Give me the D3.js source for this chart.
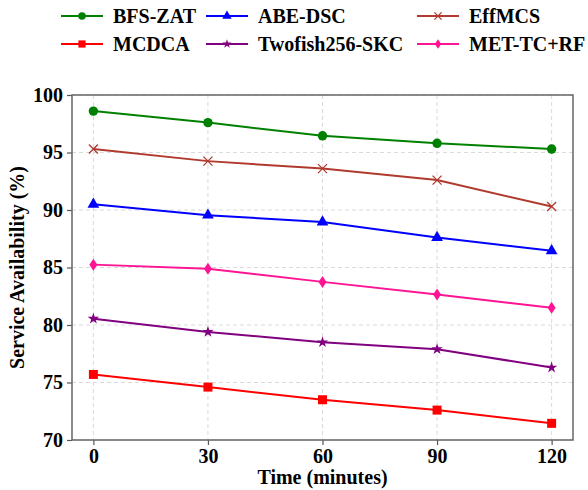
<!DOCTYPE html>
<html><head><meta charset="utf-8">
<script src="https://cdn.jsdelivr.net/npm/d3@7"></script>
<style>body{margin:0;background:#fff}svg{display:block}text{font-family:"Liberation Serif","Times New Roman",serif;font-weight:bold;fill:#000}</style>
</head><body><svg id="c" width="588" height="490"></svg>
<script>
const times = [0, 30, 60, 90, 120];
const xTicks = [0, 30, 60, 90, 120];
const yTicks = [70, 75, 80, 85, 90, 95, 100];
const seriesNames = ["BFS-ZAT", "ABE-DSC", "EffMCS", "MCDCA", "Twofish256-SKC", "MET-TC+RF"];
const bfsZat = [98.6, 97.6, 96.45, 95.8, 95.3];
const abeDsc = [90.5, 89.55, 88.95, 87.6, 86.45];
const effMcs = [95.3, 94.25, 93.6, 92.6, 90.3];
const mcdca = [75.7, 74.6, 73.5, 72.6, 71.45];
const twofish = [80.55, 79.4, 78.5, 77.9, 76.3];
const metTcRf = [85.25, 84.9, 83.75, 82.65, 81.5];
const colors = ["#008000", "#0000ff", "#b03a2e", "#ff0000", "#800080", "#ff1493"];
const markers = ["circle", "triangle", "x", "square", "star", "diamond"];
const values = [bfsZat, abeDsc, effMcs, mcdca, twofish, metTcRf];

const svg = d3.select("#c");
const L = 72, R = 573, T = 95, B = 440;
const FS = 20;
const x = d3.scaleLinear().domain([-5.6, 125.6]).range([L, R]);
const y = d3.scaleLinear().domain([70, 100]).range([B, T]);

// grid
const g = svg.append("g");
g.selectAll(".gx").data(xTicks).join("line").attr("x1", d => x(d)).attr("x2", d => x(d)).attr("y1", T).attr("y2", B)
  .attr("stroke", "#d0d0d0").attr("stroke-width", 0.8).attr("stroke-dasharray", "4,3");
g.selectAll(".gy").data(yTicks).join("line").attr("y1", d => y(d)).attr("y2", d => y(d)).attr("x1", L).attr("x2", R)
  .attr("stroke", "#d0d0d0").attr("stroke-width", 0.8).attr("stroke-dasharray", "4,3");

// axes
const xa = svg.append("g").attr("transform", `translate(0,${B})`).call(d3.axisBottom(x).tickValues(xTicks).tickSize(5).tickPadding(4));
const ya = svg.append("g").attr("transform", `translate(${L},0)`).call(d3.axisLeft(y).tickValues(yTicks).tickSize(5).tickPadding(4));
[xa, ya].forEach(a => {
  a.select(".domain").remove();
  a.selectAll("line").attr("stroke", "#555").attr("stroke-width", 1.2);
  a.selectAll("text").attr("font-size", FS).attr("font-family", "Liberation Serif, serif").attr("font-weight", "bold").attr("fill", "#000");
});
svg.append("rect").attr("x", L).attr("y", T).attr("width", R - L).attr("height", B - T)
  .attr("fill", "none").attr("stroke", "#666").attr("stroke-width", 1.5);

// labels
svg.append("text").attr("x", (L + R) / 2).attr("y", 484).attr("text-anchor", "middle").attr("font-size", FS).text("Time (minutes)");
svg.append("text").attr("transform", `translate(24,${(T + B) / 2}) rotate(-90)`).attr("text-anchor", "middle").attr("font-size", FS).text("Service Availability (%)");

function drawMarker(sel, type, color, cx, cy, sc) {
  sc = sc || 1;
  let sym;
  if (type === "circle") sym = d3.symbol(d3.symbolCircle, 70 * sc * sc);
  else if (type === "square") sym = d3.symbol(d3.symbolSquare, 81 * sc * sc);
  else if (type === "triangle") sym = d3.symbol(d3.symbolTriangle, 60 * sc * sc);
  else if (type === "star") sym = d3.symbol(d3.symbolStar, 40 * sc * sc);
  if (type === "x") {
    const s = 4.5 * sc;
    sel.append("path").attr("d", `M${cx - s},${cy - s}L${cx + s},${cy + s}M${cx - s},${cy + s}L${cx + s},${cy - s}`)
      .attr("stroke", color).attr("stroke-width", 1.3).attr("fill", "none");
  } else if (type === "diamond") {
    sel.append("path").attr("d", `M${cx},${cy - 6 * sc}L${cx + 4 * sc},${cy}L${cx},${cy + 6 * sc}L${cx - 4 * sc},${cy}Z`).attr("fill", color);
  } else {
    sel.append("path").attr("d", sym()).attr("transform", `translate(${cx},${cy})`).attr("fill", color);
  }
}

const line = d3.line().x((d, i) => x(times[i])).y(d => y(d));
values.forEach((vals, k) => {
  const sg = svg.append("g");
  sg.append("path").datum(vals).attr("d", line).attr("fill", "none").attr("stroke", colors[k]).attr("stroke-width", 2);
  vals.forEach((v, i) => drawMarker(sg, markers[k], colors[k], x(times[i]), y(v)));
});

// legend
const legCols = [61, 206, 417];
const legRows = [16, 44];
seriesNames.forEach((n, k) => {
  const cx = legCols[k % 3], cy = legRows[Math.floor(k / 3)];
  const lg = svg.append("g");
  lg.append("line").attr("x1", cx).attr("x2", cx + 42).attr("y1", cy).attr("y2", cy).attr("stroke", colors[k]).attr("stroke-width", 2);
  drawMarker(lg, markers[k], colors[k], cx + 21, cy, 0.8);
  lg.append("text").attr("x", cx + 52).attr("y", cy + 7).attr("font-size", FS).text(n);
});
</script></body></html>
